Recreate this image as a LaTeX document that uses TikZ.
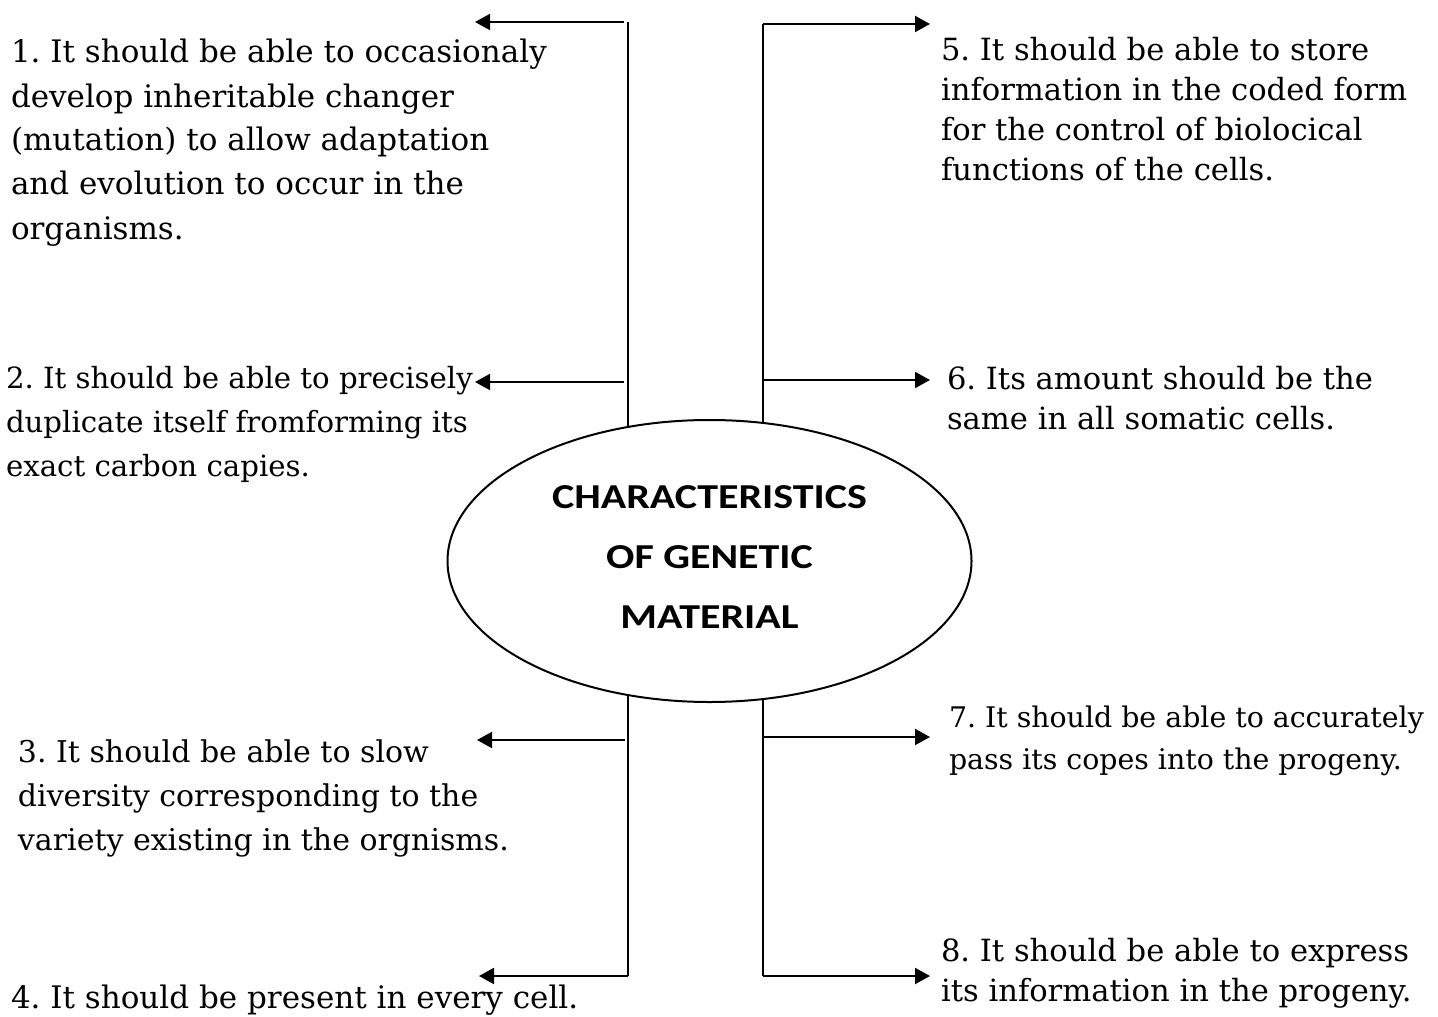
\documentclass[tikz,border=0pt]{standalone}
\usepackage{fontspec}
\setmainfont{DejaVu Serif}
\newfontfamily\calfont{Carlito}[FakeStretch=1.2]
\usetikzlibrary{arrows.meta,shapes.geometric}
\frenchspacing
\begin{document}
\begin{tikzpicture}[x=0.5pt,y=-0.5pt,
  line width=1pt,
  arr/.style={-{Triangle[length=7.5pt,width=8pt]}},
  txt/.style={anchor=north west,inner sep=0,align=left},
  ltext/.style={txt,font=\fontsize{15.5}{22}\selectfont},
  rtext/.style={txt,font=\fontsize{15.3}{20}\selectfont},
  hub/.style={ellipse,draw,fill=white,minimum width=262pt,minimum height=141pt,inner sep=0},
  hubtext/.style={inner sep=0,align=center,font=\calfont\bfseries\fontsize{17.5}{30}\selectfont}]
\useasboundingbox (0,0) rectangle (1438,1016);
% trunks
\coordinate (LT) at (628,22); \coordinate (LB) at (628,976);
\coordinate (RT) at (763,24); \coordinate (RB) at (763,976);
\draw (LT) -- (LB);
\draw (RT) -- (RB);
% hub
\node[hub] (hub) at (709.5,561) {};
\node[hubtext] (hubtext) at (709.5,557.5) {CHARACTERISTICS\\OF GENETIC\\MATERIAL};
% texts
\node[ltext] (t1) at (10,31.2) {\strut 1. It should be able to occasionaly\\develop inheritable changer\\(mutation) to allow adaptation\\and evolution to occur in the\\organisms.};
\node[ltext,font=\fontsize{14.6}{22}\selectfont] (t2) at (5,357) {\strut 2. It should be able to precisely\\duplicate itself fromforming its\\exact carbon capies.};
\node[ltext,font=\fontsize{15}{22}\selectfont] (t3) at (17,731) {\strut 3. It should be able to slow\\diversity corresponding to the\\variety existing in the orgnisms.};
\node[ltext] (t4) at (10,977) {\strut 4. It should be present in every cell.};
\node[rtext] (t5) at (940,32) {\strut 5. It should be able to store\\information in the coded form\\for the control of biolocical\\functions of the cells.};
\node[rtext] (t6) at (946,360) {\strut 6. Its amount should be the\\same in all somatic cells.};
\node[rtext,font=\fontsize{14.2}{21}\selectfont] (t7) at (948,696.6) {\strut 7. It should be able to accurately\\pass its copes into the progeny.};
\node[rtext] (t8) at (940,932) {\strut 8. It should be able to express\\its information in the progeny.};
% arrows left
\coordinate (a1s) at (624,22);  \coordinate (a1e) at (475,22);
\coordinate (a2s) at (624,382); \coordinate (a2e) at (475,382);
\coordinate (a3s) at (625,740); \coordinate (a3e) at (477,740);
\coordinate (a4e) at (479,976);
\draw[arr] (a1s) -- (a1e);
\draw[arr] (a2s) -- (a2e);
\draw[arr] (a3s) -- (a3e);
\draw[arr] (LB) -- (a4e);
% arrows right
\coordinate (a5e) at (930,24);
\coordinate (a6s) at (763,380); \coordinate (a6e) at (930,380);
\coordinate (a7s) at (763,737); \coordinate (a7e) at (930,737);
\coordinate (a8e) at (930,976);
\draw[arr] (RT) -- (a5e);
\draw[arr] (a6s) -- (a6e);
\draw[arr] (a7s) -- (a7e);
\draw[arr] (RB) -- (a8e);
\end{tikzpicture}
\end{document}
